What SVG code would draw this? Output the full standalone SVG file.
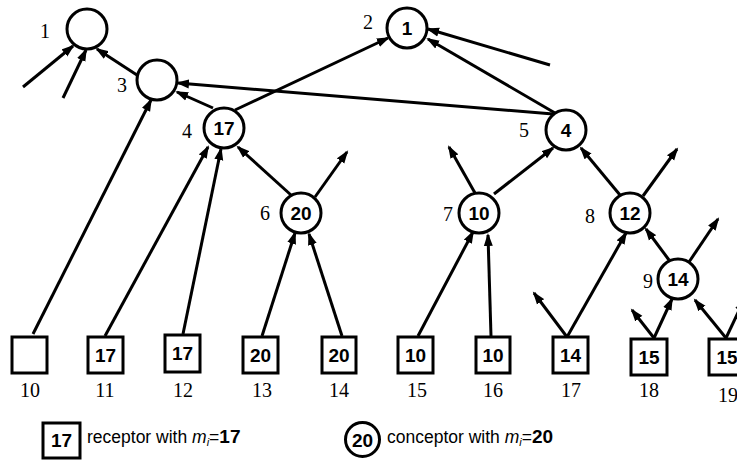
<svg xmlns="http://www.w3.org/2000/svg" width="737" height="460" viewBox="0 0 737 460">
<style>
  .c { fill: #fff; stroke: #000; stroke-width: 3; }
  .s { fill: #fff; stroke: #000; stroke-width: 3; }
  .num { font-family: "Liberation Sans", Arial, sans-serif; font-weight: bold; font-size: 19px; text-anchor: middle; fill: #000; }
  .lbl { font-family: "Liberation Serif", "Times New Roman", serif; font-size: 20px; fill: #000; }
  .lbc { font-family: "Liberation Serif", "Times New Roman", serif; font-size: 20px; fill: #000; text-anchor: middle; }
  .leg { font-family: "Liberation Sans", Arial, sans-serif; font-size: 17.5px; fill: #000; }
  .e line { stroke: #000; stroke-width: 3; marker-end: url(#ah); }
</style>
<defs>
  <marker id="ah" markerUnits="userSpaceOnUse" markerWidth="14" markerHeight="10" refX="11" refY="5" orient="auto">
    <path d="M0,0.5 L13,5 L0,9.5 z" fill="#000"/>
  </marker>
</defs>

<g id="connectors" class="e">
  <line x1="23" y1="87" x2="73" y2="46"/>
  <line x1="63" y1="98" x2="86" y2="50"/>
  <line x1="140" y1="77" x2="97" y2="49"/>
  <line x1="553" y1="114" x2="178" y2="83"/>
  <line x1="213" y1="108" x2="177" y2="92"/>
  <line x1="235" y1="110" x2="388" y2="38"/>
  <line x1="555" y1="113" x2="428" y2="39"/>
  <line x1="550" y1="65" x2="428" y2="29"/>
  <line x1="33" y1="334" x2="151" y2="100"/>
  <line x1="105" y1="336" x2="208" y2="147"/>
  <line x1="183" y1="334" x2="221" y2="149"/>
  <line x1="291" y1="195" x2="238" y2="147"/>
  <line x1="315" y1="197" x2="347" y2="152"/>
  <line x1="262" y1="336" x2="295" y2="233"/>
  <line x1="342" y1="336" x2="309" y2="234"/>
  <line x1="494" y1="194" x2="553" y2="148"/>
  <line x1="475" y1="193" x2="449" y2="147"/>
  <line x1="418" y1="336" x2="473" y2="232"/>
  <line x1="491" y1="336" x2="488" y2="235"/>
  <line x1="620" y1="195" x2="581" y2="148"/>
  <line x1="643" y1="196" x2="677" y2="149"/>
  <line x1="567" y1="337" x2="626" y2="233"/>
  <line x1="567" y1="337" x2="534" y2="293"/>
  <line x1="669" y1="260" x2="646" y2="229"/>
  <line x1="689" y1="262" x2="718" y2="219"/>
  <line x1="654" y1="338" x2="672" y2="299"/>
  <line x1="654" y1="338" x2="632" y2="310"/>
  <line x1="726" y1="338" x2="695" y2="300"/>
  <line x1="726" y1="338" x2="744" y2="300"/>
</g>

<g id="n1"><circle class="c" cx="87" cy="29" r="20"/><text class="lbl" x="40" y="38">1</text></g>
<g id="n2"><circle class="c" cx="407" cy="28" r="20"/><text class="num" x="407" y="35">1</text><text class="lbl" x="363" y="29">2</text></g>
<g id="n3"><circle class="c" cx="157" cy="80" r="20"/><text class="lbl" x="117" y="92">3</text></g>
<g id="n4"><circle class="c" cx="224" cy="128" r="20"/><text class="num" x="224" y="135">17</text><text class="lbl" x="182" y="138">4</text></g>
<g id="n5"><circle class="c" cx="566" cy="130" r="20"/><text class="num" x="566" y="137">4</text><text class="lbl" x="519" y="137">5</text></g>
<g id="n6"><circle class="c" cx="301" cy="213" r="20"/><text class="num" x="301" y="220">20</text><text class="lbl" x="260" y="220">6</text></g>
<g id="n7"><circle class="c" cx="479" cy="213" r="20"/><text class="num" x="479" y="220">10</text><text class="lbl" x="443" y="221">7</text></g>
<g id="n8"><circle class="c" cx="630" cy="213" r="20"/><text class="num" x="630" y="220">12</text><text class="lbl" x="585" y="223">8</text></g>
<g id="n9"><circle class="c" cx="678" cy="279" r="20"/><text class="num" x="678" y="286">14</text><text class="lbl" x="643" y="288">9</text></g>

<g id="n10"><rect class="s" x="12" y="337" width="35" height="36"/><text class="lbc" x="30" y="397">10</text></g>
<g id="n11"><rect class="s" x="88" y="337" width="35" height="36"/><text class="num" x="105.5" y="362">17</text><text class="lbc" x="105" y="397">11</text></g>
<g id="n12"><rect class="s" x="165" y="335" width="35" height="37"/><text class="num" x="182.5" y="360">17</text><text class="lbc" x="183" y="397">12</text></g>
<g id="n13"><rect class="s" x="243" y="337" width="35" height="36"/><text class="num" x="260.5" y="362">20</text><text class="lbc" x="262" y="397">13</text></g>
<g id="n14"><rect class="s" x="322" y="337" width="34" height="36"/><text class="num" x="339" y="362">20</text><text class="lbc" x="339" y="397">14</text></g>
<g id="n15"><rect class="s" x="398" y="337" width="35" height="36"/><text class="num" x="415.5" y="362">10</text><text class="lbc" x="417" y="397">15</text></g>
<g id="n16"><rect class="s" x="476" y="337" width="34" height="36"/><text class="num" x="493" y="362">10</text><text class="lbc" x="493" y="397">16</text></g>
<g id="n17"><rect class="s" x="553" y="337" width="35" height="36"/><text class="num" x="570.5" y="362">14</text><text class="lbc" x="571" y="397">17</text></g>
<g id="n18"><rect class="s" x="631" y="339" width="36" height="36"/><text class="num" x="649" y="364">15</text><text class="lbc" x="649" y="397">18</text></g>
<g id="n19"><rect class="s" x="709" y="339" width="36" height="36"/><text class="num" x="727" y="364">15</text><text class="lbc" x="728" y="402">19</text></g>

<g id="legend">
  <rect class="s" x="43" y="423" width="37" height="35"/>
  <text class="num" x="61.5" y="447" font-size="19">17</text>
  <text class="leg" x="87" y="443">receptor with <tspan font-style="italic">m</tspan><tspan font-style="italic" font-size="11" dy="3">i</tspan><tspan dy="-3">=</tspan><tspan font-weight="bold" font-size="19">17</tspan></text>
  <circle class="c" cx="362.5" cy="439.5" r="17" stroke-width="2.5"/>
  <text class="num" x="362.5" y="447" font-size="19">20</text>
  <text class="leg" x="387" y="443">conceptor with <tspan font-style="italic">m</tspan><tspan font-style="italic" font-size="11" dy="3">i</tspan><tspan dy="-3">=</tspan><tspan font-weight="bold" font-size="19">20</tspan></text>
</g>
</svg>
